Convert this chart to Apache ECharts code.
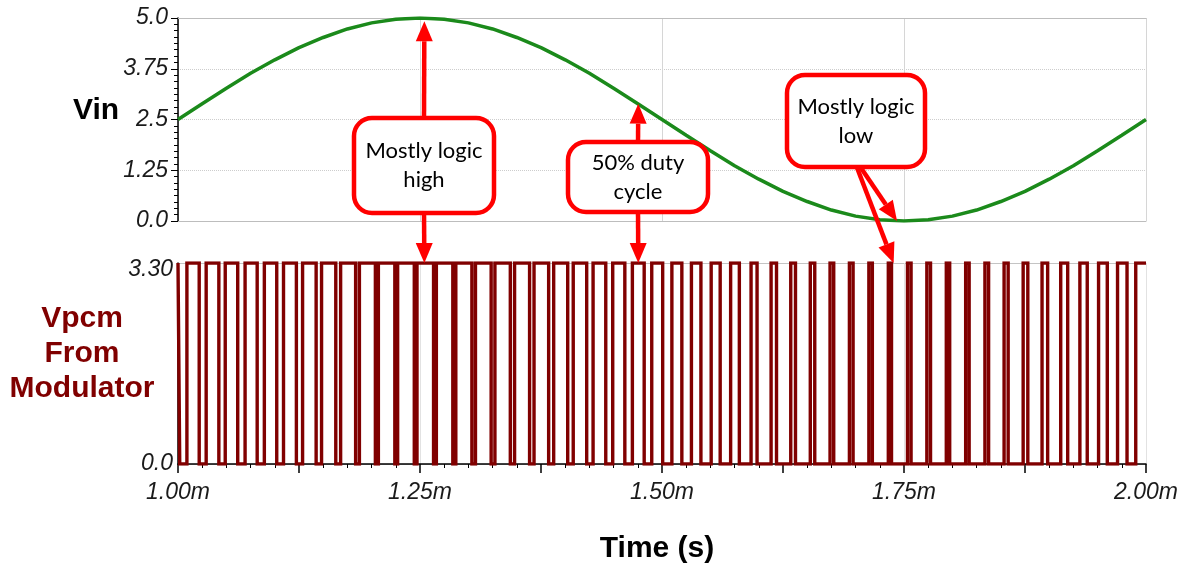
<!DOCTYPE html>
<html>
<head>
<meta charset="utf-8">
<title>Vin and Vpcm from modulator</title>
<script src="https://cdn.jsdelivr.net/npm/echarts@6/dist/echarts.min.js"></script>
<style>
html, body { margin: 0; padding: 0; background: #fff; }
#chart { width: 1182px; height: 565px; }
</style>
</head>
<body>
<div id="chart"></div>
<script>
// input sine, read every 25 us (time in ms, volts)
var vinTime = [1.000, 1.025, 1.050, 1.075, 1.100, 1.125, 1.150, 1.175, 1.200, 1.225,
  1.250, 1.275, 1.300, 1.325, 1.350, 1.375, 1.400, 1.425, 1.450, 1.475,
  1.500, 1.525, 1.550, 1.575, 1.600, 1.625, 1.650, 1.675, 1.700, 1.725,
  1.750, 1.775, 1.800, 1.825, 1.850, 1.875, 1.900, 1.925, 1.950, 1.975, 2.000];
var vinValues = [2.50, 2.89, 3.27, 3.64, 3.97, 4.27, 4.52, 4.73, 4.88, 4.97,
  5.00, 4.97, 4.88, 4.73, 4.52, 4.27, 3.97, 3.64, 3.27, 2.89,
  2.50, 2.11, 1.73, 1.36, 1.03, 0.73, 0.48, 0.27, 0.12, 0.03,
  0.00, 0.03, 0.12, 0.27, 0.48, 0.73, 1.03, 1.36, 1.73, 2.11, 2.50];

// modulator output: times (ms) where it falls to 0 and rises back to 3.3
var pcmFall = [1.0018, 1.0219, 1.0422, 1.0617, 1.0818, 1.1020, 1.1223, 1.1427, 1.1630, 1.1835,
  1.2039, 1.2240, 1.2441, 1.2640, 1.2839, 1.3036, 1.3235, 1.3433, 1.3632, 1.3829,
  1.4026, 1.4222, 1.4419, 1.4616, 1.4816, 1.5007, 1.5205, 1.5402, 1.5601, 1.5799,
  1.5982, 1.6183, 1.6379, 1.6578, 1.6774, 1.6974, 1.7173, 1.7371, 1.7573, 1.7774,
  1.7972, 1.8173, 1.8374, 1.8576, 1.8779, 1.8984, 1.9191, 1.9393, 1.9600, 1.9804];
var pcmRise = [1.0092, 1.0291, 1.0488, 1.0693, 1.0892, 1.1090, 1.1287, 1.1483, 1.1680, 1.1874,
  1.2070, 1.2269, 1.2469, 1.2669, 1.2870, 1.3073, 1.3274, 1.3477, 1.3678, 1.3881,
  1.4083, 1.4288, 1.4491, 1.4694, 1.4894, 1.5102, 1.5304, 1.5508, 1.5709, 1.5920,
  1.6127, 1.6330, 1.6532, 1.6736, 1.6936, 1.7137, 1.7338, 1.7536, 1.7736, 1.7937,
  1.8137, 1.8336, 1.8534, 1.8731, 1.8926, 1.9119, 1.9317, 1.9510, 1.9706, 1.9894];
var pcmHigh = 3.3;
var pcmLow = 0;

// tick labels
var timeTicks = [1.00, 1.25, 1.50, 1.75, 2.00];
var timeTickLabels = ['1.00m', '1.25m', '1.50m', '1.75m', '2.00m'];
var vinTicks = [0, 1.25, 2.5, 3.75, 5];
var vinTickLabels = ['0.0', '1.25', '2.5', '3.75', '5.0'];
var pcmTicks = [0, 3.3];
var pcmTickLabels = ['0.0', '3.30'];

function pick(ticks, labels, v) {
  for (var i = 0; i < ticks.length; i++) {
    if (Math.abs(ticks[i] - v) < 1e-6) return labels[i];
  }
  return '';
}

var vinData = vinTime.map(function (t, i) { return [t, vinValues[i]]; });

var pcmData = [[1.0, pcmHigh]];
for (var i = 0; i < pcmFall.length; i++) {
  pcmData.push([pcmFall[i], pcmHigh], [pcmFall[i], pcmLow], [pcmRise[i], pcmLow], [pcmRise[i], pcmHigh]);
}
pcmData.push([2.0, pcmHigh]);

var labelFont = {
  fontFamily: 'Liberation Sans, Arial, sans-serif',
  fontStyle: 'italic',
  fontSize: 23,
  color: '#1a1a1a'
};

var chart = echarts.init(document.getElementById('chart'));

var option = {
  animation: false,
  backgroundColor: '#fff',
  grid: [
    { left: 178, right: 36, top: 18, height: 203 },
    { left: 178, right: 36, top: 263, height: 201 }
  ],
  xAxis: [
    {
      gridIndex: 0, type: 'value', position: 'bottom', min: 1, max: 2, interval: 0.25,
      axisLine: { show: true, onZero: false, lineStyle: { color: '#bdbdbd', width: 1 } },
      axisTick: { show: false },
      axisLabel: { show: false },
      splitLine: { show: true, lineStyle: { color: '#d6d6d6', width: 1 } }
    },
    {
      gridIndex: 0, type: 'value', position: 'top', min: 1, max: 2, interval: 0.25,
      axisLine: { show: true, onZero: false, lineStyle: { color: '#bdbdbd', width: 1 } },
      axisTick: { show: false },
      axisLabel: { show: false },
      splitLine: { show: false }
    },
    {
      gridIndex: 1, type: 'value', position: 'bottom', min: 1, max: 2, interval: 0.25,
      axisLine: { show: true, onZero: false, lineStyle: { color: '#000', width: 1.5 } },
      axisTick: { show: false },
      axisLabel: Object.assign({
        margin: 17,
        formatter: function (v) { return pick(timeTicks, timeTickLabels, v); }
      }, labelFont),
      splitLine: { show: true, lineStyle: { color: '#e2e2e2', width: 1 } }
    },
    {
      gridIndex: 1, type: 'value', position: 'bottom', min: 1, max: 2, interval: 0.125,
      axisLine: { show: false, onZero: false },
      axisTick: { show: true, length: 9, lineStyle: { color: '#000', width: 1.5 } },
      minorTick: { show: true, splitNumber: 5, length: 4, lineStyle: { color: '#000', width: 1 } },
      axisLabel: { show: false },
      splitLine: { show: false }
    }
  ],
  yAxis: [
    {
      gridIndex: 0, type: 'value', min: 0, max: 5, interval: 1.25,
      axisLine: { show: true, lineStyle: { color: '#000', width: 1.5 } },
      axisTick: { show: true, length: 7, lineStyle: { color: '#000', width: 1 } },
      minorTick: { show: true, splitNumber: 8, length: 4, lineStyle: { color: '#000', width: 1 } },
      axisLabel: Object.assign({
        margin: 10,
        formatter: function (v) { return pick(vinTicks, vinTickLabels, v); }
      }, labelFont),
      splitLine: { show: true, lineStyle: { color: '#cdcdcd', type: 'dotted', width: 1 } }
    },
    {
      gridIndex: 1, type: 'value', min: 0, max: 3.3, interval: 3.3,
      axisLine: { show: true, lineStyle: { color: '#000', width: 1.5 } },
      axisTick: { show: false },
      axisLabel: Object.assign({
        margin: 5,
        formatter: function (v) {
          var s = pick(pcmTicks, pcmTickLabels, v);
          return v > 1 ? '{hi|' + s + '}' : s;
        },
        rich: {
          hi: {
            fontFamily: 'Liberation Sans, Arial, sans-serif',
            fontStyle: 'italic', fontSize: 23, color: '#1a1a1a',
            padding: [14, 0, 0, 0]
          }
        }
      }, labelFont),
      splitLine: { show: true, lineStyle: { color: '#c4c4c4', width: 1 } }
    }
  ],
  series: [
    {
      name: 'Vin', type: 'line', xAxisIndex: 0, yAxisIndex: 0,
      data: vinData, showSymbol: false, smooth: false,
      lineStyle: { color: '#1b8a1b', width: 3.5 }
    },
    {
      name: 'Vpcm', type: 'line', xAxisIndex: 2, yAxisIndex: 1,
      data: pcmData, showSymbol: false,
      lineStyle: { color: '#800000', width: 3.4, join: 'miter' }
    }
  ]
};

chart.setOption(option);

// callouts
var red = '#ff0000';
function arrow(from, to) {
  var dx = to[0] - from[0], dy = to[1] - from[1];
  var len = Math.sqrt(dx * dx + dy * dy);
  var ux = dx / len, uy = dy / len;
  var hl = 20, hw = 8.5;
  var bx = to[0] - ux * hl, by = to[1] - uy * hl;
  return [
    { type: 'line', z: 90, shape: { x1: from[0], y1: from[1], x2: bx, y2: by },
      style: { stroke: red, lineWidth: 4.5 } },
    { type: 'polygon', z: 90,
      shape: { points: [[to[0], to[1]], [bx - uy * hw, by + ux * hw], [bx + uy * hw, by - ux * hw]] },
      style: { fill: red } }
  ];
}
function box(x, y, w, h, text) {
  return [
    { type: 'rect', z: 100, shape: { x: x, y: y, width: w, height: h, r: 18 },
      style: { fill: '#fff', stroke: red, lineWidth: 4.5 } },
    { type: 'text', z: 101, x: x + w / 2, y: y + h / 2,
      style: { text: text, align: 'center', verticalAlign: 'middle',
        font: '22px Lato, "Noto Sans", sans-serif', lineHeight: 29, fill: '#000' } }
  ];
}
function vinPx(pt) { return chart.convertToPixel({ seriesIndex: 0 }, pt); }
function pcmPx(pt) { return chart.convertToPixel({ seriesIndex: 1 }, pt); }

var g = [];
g = g.concat(arrow([424, 120], vinPx([1.2545, 4.92])));
g = g.concat(arrow([424, 211], pcmPx([1.2545, pcmHigh])));
g = g.concat(arrow([638, 144], vinPx([1.4755, 2.89])));
g = g.concat(arrow([638, 210], pcmPx([1.4755, pcmHigh])));
g = g.concat(arrow([859, 165], vinPx([1.7428, 0])));
g = g.concat(arrow([856, 165], pcmPx([1.7393, pcmHigh])));
g = g.concat(box(354, 118, 140, 95, 'Mostly logic\nhigh'));
g = g.concat(box(568, 142, 140, 70, '50% duty\ncycle'));
g = g.concat(box(787, 75, 138, 92, 'Mostly logic\nlow'));

// axis titles
g.push({ type: 'text', z: 50, x: 96, y: 111,
  style: { text: 'Vin', align: 'center', verticalAlign: 'middle',
    font: 'bold 30px "Liberation Sans", Arial, sans-serif', fill: '#000' } });
g.push({ type: 'text', z: 50, x: 82, y: 354,
  style: { text: 'Vpcm\nFrom\nModulator', align: 'center', verticalAlign: 'middle',
    font: 'bold 30px "Liberation Sans", Arial, sans-serif', lineHeight: 35, fill: '#800000' } });
g.push({ type: 'text', z: 50, x: 657, y: 549,
  style: { text: 'Time (s)', align: 'center', verticalAlign: 'middle',
    font: 'bold 30px "Liberation Sans", Arial, sans-serif', fill: '#000' } });

chart.setOption({ graphic: g });
</script>
</body>
</html>
